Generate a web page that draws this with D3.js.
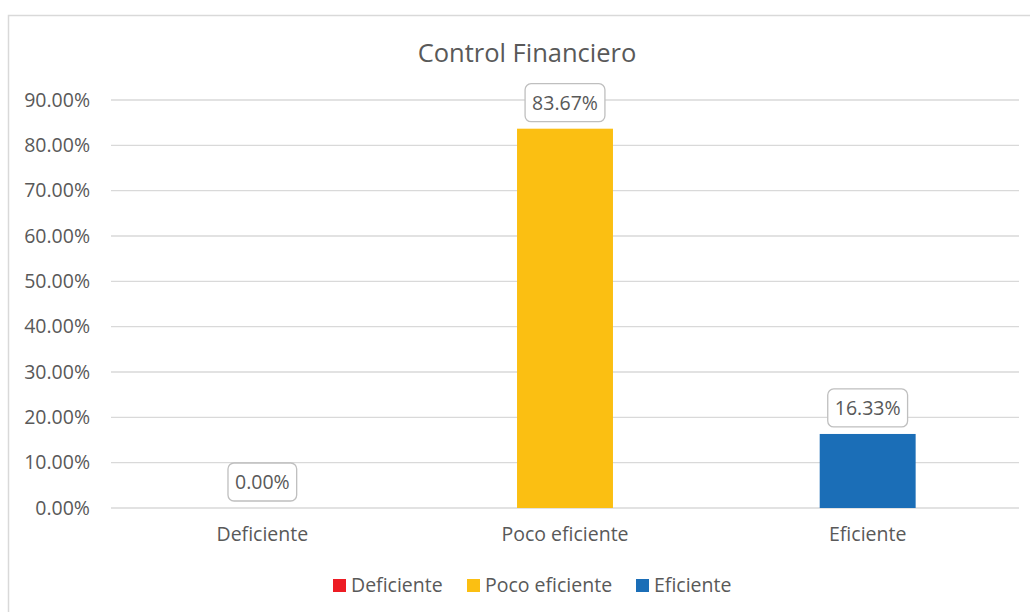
<!DOCTYPE html>
<html>
<head>
<meta charset="utf-8">
<script src="https://cdn.jsdelivr.net/npm/d3@7"></script>
<style>
  body { margin: 0; background: #fff; }
  text { font-family: "Open Sans", sans-serif; fill: #595959; font-variant-ligatures: none; }
</style>
</head>
<body>
<div class="chart"></div>
<script>
// data
var categories = ["Deficiente", "Poco eficiente", "Eficiente"];
var values = [0.00, 83.67, 16.33];
var colors = ["#ED1C24", "#FBBF12", "#1B6EB7"];
var yTicks = [0, 10, 20, 30, 40, 50, 60, 70, 80, 90];

var svgWidth = 1030;
var svgHeight = 612;
var fontSize = 19.5;

var margin = { top: 100, right: 11, bottom: 104, left: 111 };
var width = svgWidth - margin.left - margin.right;
var height = svgHeight - margin.top - margin.bottom;

var svg = d3.select(".chart")
  .append("svg")
  .attr("width", svgWidth)
  .attr("height", svgHeight);

// outer frame
svg.append("rect")
  .attr("x", 8.5)
  .attr("y", 15.5)
  .attr("width", 1040)
  .attr("height", 620)
  .attr("fill", "none")
  .attr("stroke", "#d9d9d9")
  .attr("stroke-width", 1.5);

svg.append("text")
  .attr("x", 527)
  .attr("y", 62)
  .attr("text-anchor", "middle")
  .attr("font-size", 25.5)
  .text("Control Financiero");

var chartGroup = svg.append("g")
  .attr("transform", `translate(${margin.left}, ${margin.top})`);

var xScale = d3.scaleBand()
  .domain(categories)
  .range([0, width])
  .paddingInner(0.683)
  .paddingOuter(0.683 / 2);

var yScale = d3.scaleLinear()
  .domain([0, 90])
  .range([height, 0]);

// gridlines
chartGroup.selectAll(".grid")
  .data(yTicks)
  .enter()
  .append("line")
  .attr("x1", 0)
  .attr("x2", width)
  .attr("y1", d => yScale(d))
  .attr("y2", d => yScale(d))
  .attr("stroke", "#d9d9d9")
  .attr("stroke-width", 1.3);

// y axis labels
var leftAxis = d3.axisLeft(yScale)
  .tickValues(yTicks)
  .tickFormat(d => d.toFixed(2) + "%")
  .tickSize(0)
  .tickPadding(21);

var yAxisG = chartGroup.append("g").call(leftAxis);
yAxisG.select(".domain").remove();
yAxisG.selectAll("text")
  .attr("font-size", fontSize)
  .attr("font-family", "'Open Sans', sans-serif")
  .attr("fill", "#595959");

// x axis labels
var bottomAxis = d3.axisBottom(xScale).tickSize(0).tickPadding(19);
var xAxisG = chartGroup.append("g")
  .attr("transform", `translate(0, ${height})`)
  .call(bottomAxis);
xAxisG.select(".domain").remove();
xAxisG.selectAll("text")
  .attr("font-size", fontSize)
  .attr("font-family", "'Open Sans', sans-serif")
  .attr("fill", "#595959");

// bars
chartGroup.selectAll(".bar")
  .data(values)
  .enter()
  .append("rect")
  .attr("x", (d, i) => xScale(categories[i]))
  .attr("y", d => yScale(d))
  .attr("width", xScale.bandwidth())
  .attr("height", d => height - yScale(d))
  .attr("fill", (d, i) => colors[i]);

// data labels in boxes
var labels = chartGroup.selectAll(".lbl")
  .data(values)
  .enter()
  .append("g")
  .attr("transform", (d, i) => `translate(${xScale(categories[i]) + xScale.bandwidth() / 2}, ${yScale(d) - 7})`);

labels.append("text")
  .attr("text-anchor", "middle")
  .attr("y", -12)
  .attr("font-size", fontSize)
  .text(d => d.toFixed(2) + "%");

labels.each(function () {
  var g = d3.select(this);
  var bb = g.select("text").node().getBBox();
  var w = bb.width + 14;
  g.insert("rect", "text")
    .attr("x", -w / 2)
    .attr("y", -38)
    .attr("width", w)
    .attr("height", 38)
    .attr("rx", 6)
    .attr("fill", "#fff")
    .attr("stroke", "#bfbfbf")
    .attr("stroke-width", 1.3);
});

// legend
var legendX = [333, 467, 636];
var legend = svg.selectAll(".legend")
  .data(categories)
  .enter()
  .append("g")
  .attr("transform", (d, i) => `translate(${legendX[i]}, 579)`);

legend.append("rect")
  .attr("width", 13)
  .attr("height", 13)
  .attr("fill", (d, i) => colors[i]);

legend.append("text")
  .attr("x", 18)
  .attr("y", 13)
  .attr("font-size", fontSize)
  .text(d => d);
</script>
</body>
</html>
